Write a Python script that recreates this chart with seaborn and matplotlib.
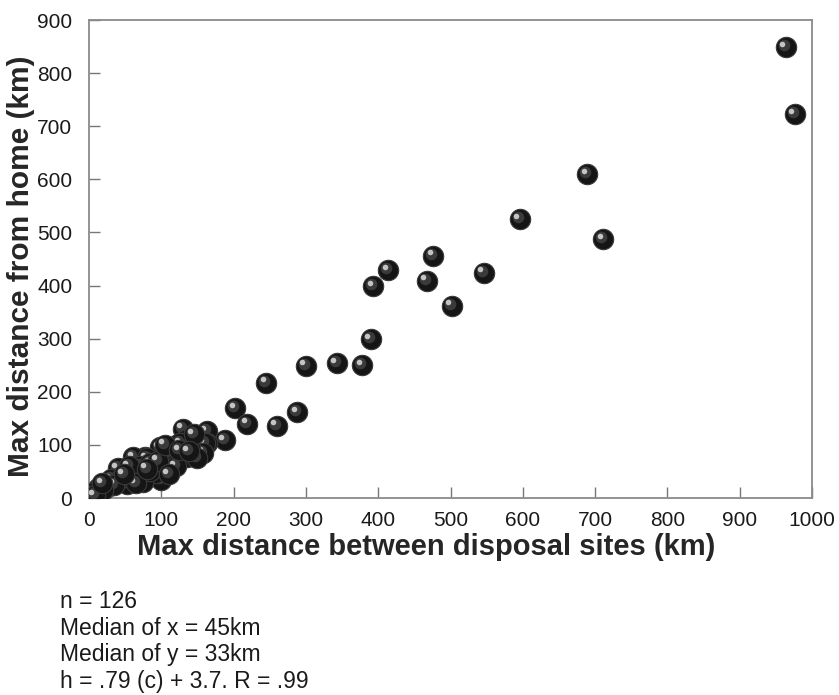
import matplotlib
matplotlib.use('Agg')
import matplotlib.pyplot as plt
import matplotlib.transforms as mtransforms
import pandas as pd
import seaborn as sns

# max distance between disposal sites (km) vs max distance from home (km)
x_sites = [964, 976, 689, 711, 596, 476, 414, 393, 467, 546, 502, 390, 343, 378,
           300, 245, 202, 288, 219, 260, 188, 163, 163, 130, 133, 156, 135, 160,
           123, 98, 126, 116, 77, 61, 80, 119, 158, 64, 94, 40, 52, 27, 13, 3,
           100, 91, 30, 45, 70, 85, 105, 110, 140, 150, 75, 60, 85, 120, 35, 55,
           95, 105, 145, 125, 20, 8, 65, 110, 138, 80, 48, 18]
y_home = [849, 723, 610, 487, 525, 456, 429, 399, 409, 424, 362, 299, 254, 250,
          249, 217, 169, 161, 140, 136, 109, 126, 104, 130, 109, 85, 77, 103,
          102, 96, 103, 78, 78, 77, 75, 77, 85, 50, 47, 56, 27, 22, 19, 10,
          34, 47, 35, 40, 60, 65, 60, 85, 95, 75, 30, 40, 50, 60, 25, 60,
          70, 100, 120, 90, 15, 5, 28, 45, 88, 55, 45, 28]

stats_lines = ['n = 126', 'Median of x = 45km', 'Median of y = 33km',
               'h = .79 (c) + 3.7. R = .99']

df = pd.DataFrame({'sites': x_sites, 'home': y_home})

sns.set_style('white')
plt.rcParams['font.family'] = ['Liberation Sans', 'DejaVu Sans']

fig = plt.figure(figsize=(8.39, 6.95), dpi=100)
ax = fig.add_axes([89 / 839, 1 - 498 / 695, 723 / 839, 478 / 695])

# sphere look: dark ball, soft inner shade, small highlight up-left
shade = mtransforms.offset_copy(ax.transData, fig=fig, x=-2, y=2, units='dots')
spec = mtransforms.offset_copy(ax.transData, fig=fig, x=-3.5, y=3.5, units='dots')
for i in range(len(df)):
    row = df.iloc[[i]]
    z = 3 + i * 0.01
    sns.scatterplot(data=row, x='sites', y='home', ax=ax, s=215, color='#151515',
                    edgecolor='#3a3a3a', linewidth=0.8, zorder=z)
    sns.scatterplot(data=row, x='sites', y='home', ax=ax, s=70, color='#3a3a3a',
                    linewidth=0, transform=shade, zorder=z + 0.002)
    sns.scatterplot(data=row, x='sites', y='home', ax=ax, s=16, color='#c4c4c4',
                    linewidth=0, transform=spec, zorder=z + 0.004)

ax.set_xlim(0, 1000)
ax.set_ylim(0, 900)
ax.set_xticks(range(0, 1001, 100))
ax.set_yticks(range(0, 901, 100))
ax.tick_params(direction='in', length=8, width=1, color='#777777',
               labelsize=15, labelcolor='#1a1a1a', top=False, right=False,
               left=True, bottom=True)
ax.tick_params(axis='y', pad=12)
ax.tick_params(axis='x', pad=9)
for sp in ax.spines.values():
    sp.set_color('#8a8a8a')
    sp.set_linewidth(1.3)

ax.set_xlabel('Max distance between disposal sites (km)', fontsize=21,
              fontweight='bold')
ax.set_ylabel('Max distance from home (km)', fontsize=21.5, fontweight='bold')
ax.xaxis.set_label_coords(0.466, -0.073)
ax.yaxis.set_label_coords(-0.074, 0.485)

for i, line in enumerate(stats_lines):
    fig.text(60 / 839, 1 - (602 + i * 26.5) / 695, line, fontsize=16.5,
             color='#1a1a1a', va='center', ha='left')

fig.savefig('out.png', dpi=100)
plt.close(fig)
